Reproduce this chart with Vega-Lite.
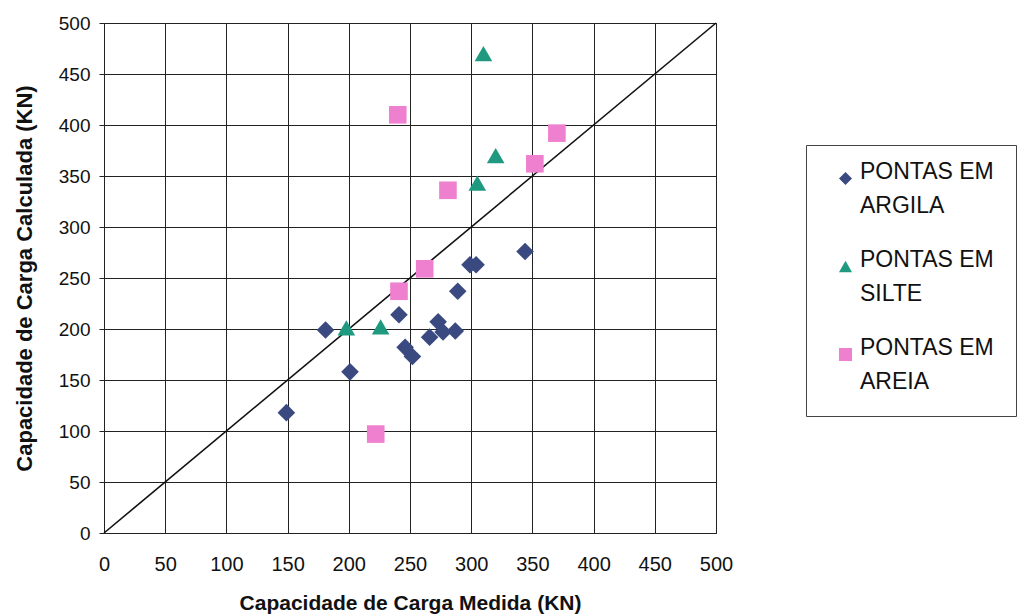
{
  "$schema": "https://vega.github.io/schema/vega-lite/v6.json",
  "width": 612,
  "height": 510,
  "autosize": "none",
  "padding": {"left": 104, "top": 23, "right": 310, "bottom": 83},
  "background": "white",
  "config": {
    "font": "Liberation Sans",
    "view": {"stroke": "#222", "strokeWidth": 1},
    "style": {"guide-label": {"lineHeight": 34}}
  },
  "datasets": {
    "pts": [
      {"medida": 149, "calculada": 118, "tipo": "PONTAS EM ARGILA"},
      {"medida": 181, "calculada": 199, "tipo": "PONTAS EM ARGILA"},
      {"medida": 201, "calculada": 158, "tipo": "PONTAS EM ARGILA"},
      {"medida": 241, "calculada": 214, "tipo": "PONTAS EM ARGILA"},
      {"medida": 246, "calculada": 182, "tipo": "PONTAS EM ARGILA"},
      {"medida": 252, "calculada": 173, "tipo": "PONTAS EM ARGILA"},
      {"medida": 266, "calculada": 192, "tipo": "PONTAS EM ARGILA"},
      {"medida": 273, "calculada": 207, "tipo": "PONTAS EM ARGILA"},
      {"medida": 277, "calculada": 197, "tipo": "PONTAS EM ARGILA"},
      {"medida": 287, "calculada": 198, "tipo": "PONTAS EM ARGILA"},
      {"medida": 289, "calculada": 237, "tipo": "PONTAS EM ARGILA"},
      {"medida": 299, "calculada": 263, "tipo": "PONTAS EM ARGILA"},
      {"medida": 304, "calculada": 263, "tipo": "PONTAS EM ARGILA"},
      {"medida": 344, "calculada": 276, "tipo": "PONTAS EM ARGILA"},
      {"medida": 198, "calculada": 201, "tipo": "PONTAS EM SILTE"},
      {"medida": 226, "calculada": 202, "tipo": "PONTAS EM SILTE"},
      {"medida": 305, "calculada": 343, "tipo": "PONTAS EM SILTE"},
      {"medida": 320, "calculada": 370, "tipo": "PONTAS EM SILTE"},
      {"medida": 310, "calculada": 470, "tipo": "PONTAS EM SILTE"},
      {"medida": 222, "calculada": 97, "tipo": "PONTAS EM AREIA"},
      {"medida": 240, "calculada": 410, "tipo": "PONTAS EM AREIA"},
      {"medida": 241, "calculada": 237, "tipo": "PONTAS EM AREIA"},
      {"medida": 262, "calculada": 259, "tipo": "PONTAS EM AREIA"},
      {"medida": 281, "calculada": 336, "tipo": "PONTAS EM AREIA"},
      {"medida": 352, "calculada": 362, "tipo": "PONTAS EM AREIA"},
      {"medida": 370, "calculada": 392, "tipo": "PONTAS EM AREIA"}
    ],
    "diag": [
      {"medida": 0, "calculada": 0},
      {"medida": 500, "calculada": 500}
    ]
  },
  "layer": [
    {
      "data": {"name": "diag"},
      "mark": {"type": "line", "color": "#111", "strokeWidth": 1.6},
      "encoding": {
        "x": {"field": "medida", "type": "quantitative"},
        "y": {"field": "calculada", "type": "quantitative"}
      }
    },
    {
      "data": {"name": "pts"},
      "mark": {"type": "point", "filled": true, "opacity": 1, "size": 310},
      "encoding": {
        "x": {
          "field": "medida", "type": "quantitative",
          "scale": {"domain": [0, 500], "nice": false},
          "axis": {
            "values": [0, 50, 100, 150, 200, 250, 300, 350, 400, 450, 500],
            "title": "Capacidade de Carga Medida (KN)",
            "titleFontSize": 21, "titleFontWeight": "bold", "titleColor": "#111",
            "titlePadding": 18,
            "labelFontSize": 20, "labelColor": "#111", "labelPadding": 21,
            "labelFlush": false,
            "tickSize": 0, "domainColor": "#222",
            "gridColor": "#222", "gridOpacity": 1, "gridWidth": 1
          }
        },
        "y": {
          "field": "calculada", "type": "quantitative",
          "scale": {"domain": [0, 500], "nice": false},
          "axis": {
            "values": [0, 50, 100, 150, 200, 250, 300, 350, 400, 450, 500],
            "title": "Capacidade de Carga Calculada (KN)",
            "titleFontSize": 22, "titleFontWeight": "bold", "titleColor": "#111",
            "titlePadding": 22,
            "labelFontSize": 19, "labelColor": "#111", "labelPadding": 9,
            "labelFlush": false,
            "tickSize": 5, "tickColor": "#222", "domainColor": "#222",
            "gridColor": "#222", "gridOpacity": 1, "gridWidth": 1
          }
        },
        "shape": {
          "field": "tipo", "type": "nominal",
          "scale": {
            "domain": ["PONTAS EM ARGILA", "PONTAS EM SILTE", "PONTAS EM AREIA"],
            "range": ["diamond", "triangle-up", "square"]
          },
          "legend": null
        },
        "color": {
          "field": "tipo", "type": "nominal",
          "scale": {
            "domain": ["PONTAS EM ARGILA", "PONTAS EM SILTE", "PONTAS EM AREIA"],
            "range": ["#3a4a80", "#1f9a80", "#ef7fcf"]
          },
          "legend": {
            "title": null,
            "orient": "none",
            "legendX": 702,
            "legendY": 122,
            "padding": 22,
            "symbolOffset": 6,
            "strokeColor": "#444",
            "fillColor": "white",
            "symbolType": "diamond",
            "symbolSize": 170,
            "labelFontSize": 23,
            "labelColor": "#111",
            "labelBaseline": "alphabetic",
            "labelOffset": 3,
            "rowPadding": 30,
            "labelLimit": 400,
            "labelExpr": "split(replace(datum.label, 'EM ', 'EM      |'), '|')"
          }
        }
      }
    }
  ]
}
